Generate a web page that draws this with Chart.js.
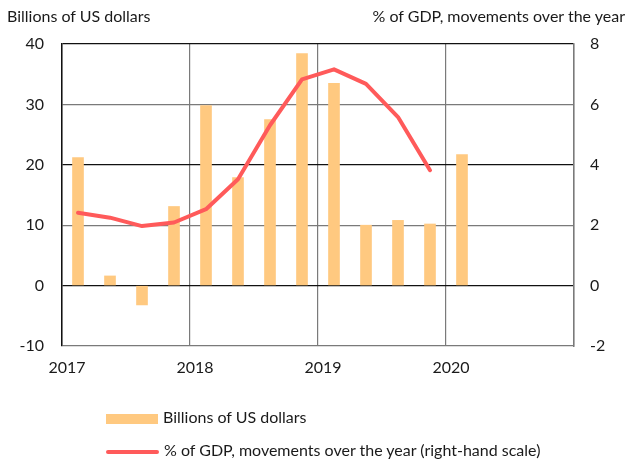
<!DOCTYPE html>
<html>
<head>
<meta charset="utf-8">
<script src="https://cdn.jsdelivr.net/npm/chart.js@4.4.1/dist/chart.umd.min.js"></script>
<style>
    body { margin: 0; background: #fff; }
    #wrap { position: relative; width: 629px; height: 463px; font-family: "Lato", sans-serif; color: #1a1a1a; }
    #chart { position: absolute; left: 0; top: 0; }
    .title { position: absolute; top: 6px; font-size: 16px; white-space: nowrap; }
    .legend { position: absolute; left: 106px; font-size: 16px; white-space: nowrap; }
    .legend span { display: inline-block; vertical-align: middle; margin-right: 5px; }
</style>
</head>
<body>
<div id="wrap">
    <canvas id="chart" width="629" height="463"></canvas>
    <div class="title" style="left:7px">Billions of US dollars</div>
    <div class="title" style="right:4px">% of GDP, movements over the year</div>
    <div class="legend" style="top:407px"><span style="width:52px;height:10px;background:#ffc980"></span>Billions of US dollars</div>
    <div class="legend" style="top:440px"><span style="width:53px;height:4px;border-radius:2px;background:#ff5a5a"></span>% of GDP, movements over the year (right-hand scale)</div>
</div>
<script>
// Quarter positions (0 = start of 2017, 4 per year)
const quarters = [0.5, 1.5, 2.5, 3.5, 4.5, 5.5, 6.5, 7.5, 8.5, 9.5, 10.5, 11.5, 12.5];
const yearLabels = ["2017", "2018", "2019", "2020", ""];

// Billions of US dollars (bars)
const billions = [21.2, 1.6, -3.2, 13.1, 29.8, 17.9, 27.5, 38.4, 33.5, 10.0, 10.8, 10.2, 21.7];

// % of GDP, movements over the year (line, right scale)
const gdpPct = [2.41, 2.25, 1.97, 2.09, 2.53, 3.52, 5.31, 6.83, 7.16, 6.68, 5.58, 3.82];

const leftTicks = [-10, 0, 10, 20, 30, 40];
const rightTicks = [-2, 0, 2, 4, 6, 8];

const tickFont = { family: "Lato, sans-serif", size: 16 };

// Horizontal lines alternate black / grey like the original
function hLineColor(ctx) {
    const v = ctx.tick ? ctx.tick.value : null;
    if (v === 40 || v === 20 || v === 0) return "#111";
    return "#7a7a7a";
}

const ctx = document.getElementById("chart").getContext("2d");

new Chart(ctx, {
    data: {
        datasets: [
            {
                type: "line",
                label: "% of GDP, movements over the year (right-hand scale)",
                data: gdpPct.map((v, i) => ({ x: quarters[i], y: v })),
                yAxisID: "yRight",
                borderColor: "#ff5a5a",
                borderWidth: 4,
                borderCapStyle: "round",
                borderJoinStyle: "round",
                pointRadius: 0,
                tension: 0
            },
            {
                type: "bar",
                label: "Billions of US dollars",
                data: billions.map((v, i) => ({ x: quarters[i], y: v })),
                yAxisID: "yLeft",
                backgroundColor: "#ffc980",
                barThickness: 11
            }
        ]
    },
    options: {
        responsive: false,
        animation: false,
        layout: { padding: { top: 44, left: 0, right: 0, bottom: 0 } },
        plugins: { legend: { display: false }, tooltip: { enabled: false } },
        scales: {
            x: {
                type: "linear",
                min: 0,
                max: 16,
                offset: false,
                afterFit: scale => { scale.height = 117; },
                afterBuildTicks: scale => {
                    scale.ticks = yearLabels.map((_, i) => ({ value: i * 4 }));
                },
                ticks: {
                    font: tickFont,
                    color: "#1a1a1a",
                    padding: 12,
                    labelOffset: 5,
                    maxRotation: 0,
                    callback: (v) => yearLabels[Math.round(v / 4)]
                },
                grid: { color: "#7a7a7a", drawTicks: false, lineWidth: 1.2, offset: false },
                border: { display: false }
            },
            yLeft: {
                position: "left",
                min: -10,
                max: 40,
                afterFit: scale => { scale.width = 62; },
                afterBuildTicks: scale => {
                    scale.ticks = leftTicks.map(v => ({ value: v }));
                },
                ticks: { font: tickFont, color: "#1a1a1a", padding: 18 },
                grid: { color: hLineColor, drawTicks: false, lineWidth: 1.2 },
                border: { color: "#111", width: 1.5 }
            },
            yRight: {
                position: "right",
                min: -2,
                max: 8,
                afterFit: scale => { scale.width = 55; },
                afterBuildTicks: scale => {
                    scale.ticks = rightTicks.map(v => ({ value: v }));
                },
                ticks: { font: tickFont, color: "#1a1a1a", padding: 16 },
                grid: { display: false, drawTicks: false },
                border: { color: "#7a7a7a", width: 1.5 }
            }
        }
    }
});
</script>
</body>
</html>
